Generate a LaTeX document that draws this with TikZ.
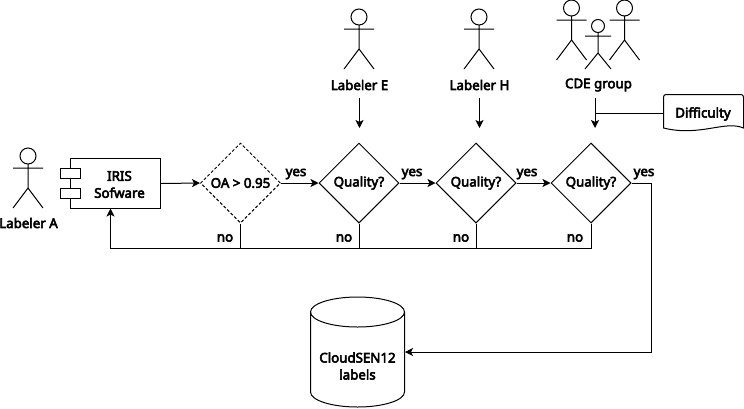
\documentclass[tikz,border=0pt]{standalone}
\usepackage{fontspec}
\setmainfont{Noto Sans}[BoldFont={Noto Sans},BoldFeatures={FakeBold=4}]
\usetikzlibrary{shapes.geometric,arrows.meta,calc}
\tikzset{
  every picture/.style={x=1pt,y=-1pt,line width=1pt},
  lbl/.style={font=\fontsize{13.3}{16}\selectfont\bfseries,inner sep=0pt,align=center,text=black},
  tag/.style={lbl,fill=black!2,inner xsep=1pt,inner ysep=1pt},
  dia/.style={draw,diamond,aspect=1,minimum width=80pt,minimum height=80pt,inner sep=0pt,lbl},
  conn/.style={draw,-{Stealth[length=8pt,width=8pt,inset=2pt]}},
  wire/.style={draw},
  pics/actor/.style={code={
    \draw (0,-12) circle[radius=8];
    \draw (-15,0) -- (15,0) (0,-4) -- (0,20) (-15,40) -- (0,20) -- (15,40);
  }},
  pics/smallactor/.style={code={
    \draw (0,-10) circle[radius=6.5];
    \draw (-13,0) -- (13,0) (0,-3.5) -- (0,17) (-13,33) -- (0,17) -- (13,33);
  }}
}
\begin{document}
\begin{tikzpicture}
\useasboundingbox (0,0) rectangle (744,408);
% actors
\pic at (28,168) {actor};
\pic at (359,29) {actor};
\pic at (479,29) {actor};
\pic at (571.5,20) {actor};
\pic at (624.5,20) {actor};
\pic at (598,36) {smallactor};
\node[lbl] (la) at (28.5,223) {Labeler A};
\node[lbl] (le) at (359.5,85) {Labeler E};
\node[lbl] (lh) at (479.5,85) {Labeler H};
\node[lbl] (lc) at (598.5,85) {CDE group};
% IRIS
\node[draw,fill=white,minimum width=90pt,minimum height=50pt,inner sep=0pt] (iris) at (115.5,183.5) {};
\node[draw,fill=white,minimum width=20pt,minimum height=10pt,inner sep=0pt] (p1) at (70.5,173.5) {};
\node[draw,fill=white,minimum width=20pt,minimum height=10pt,inner sep=0pt] (p2) at (70.5,193.5) {};
\node[lbl] (irist) at (119.5,184.5) {IRIS\\[1pt]Sofware};
% decisions
\node[dia,densely dashed] (oa) at (240.5,183) {OA > 0.95};
\node[dia] (q1) at (359,183) {Quality?};
\node[dia] (q2) at (476,183) {Quality?};
\node[dia] (q3) at (591,183) {Quality?};
% store
\coordinate (cl) at (310.5,312);
\coordinate (cr) at (404.5,312);
\coordinate (cbl) at (310.5,392);
\coordinate (cbr) at (404.5,392);
\draw (cl) -- (cbl) arc[start angle=180,end angle=0,x radius=47,y radius=15] -- (cr);
\draw (357.5,312) ellipse[x radius=47,y radius=15];
\node[lbl] (db) at (357.5,366) {CloudSEN12\\[1pt]labels};
\coordinate (dbin) at (405,352);
% difficulty
\draw (666,94.5) -- (741,94.5) to[out=0,in=90] (743.5,97) -- (743.5,128)
  .. controls (725,120) and (700,137) .. (663.5,128) -- (663.5,97) to[out=90,in=180] (666,94.5);
\node[lbl] (diff) at (703,114) {Di{f}{f}iculty};
\coordinate (diffl) at (663.5,113.5);
% arrows
\draw[conn] (iris.east) -- (oa.west);
\draw[conn] (oa.east) -- (q1.west);
\draw[conn] (q1.east) -- (q2.west);
\draw[conn] (q2.east) -- (q3.west);
\coordinate (e1) at (359.5,98);
\coordinate (e2) at (359.5,128);
\coordinate (h1) at (479.5,98);
\coordinate (h2) at (479.5,128);
\coordinate (c1) at (595,98);
\coordinate (c2) at (595,128);
\coordinate (cm) at (595,113.5);
\draw[conn] (e1) -- (e2);
\draw[conn] (h1) -- (h2);
\draw[conn] (c1) -- (c2);
\draw[wire] (diffl) -- (cm);
\coordinate (b0) at (110.5,248.5);
\coordinate (irisb) at (110.5,208.5);
\draw[conn] (q3.south) -- (591,248.5) -- (b0) -- (irisb);
\draw[wire] (oa.south) -- (240.5,248.5);
\draw[wire] (q1.south) -- (359,248.5);
\draw[wire] (q2.south) -- (476,248.5);
\draw[conn] (q3.east) -- (651,183) -- (651,352) -- (dbin);
% edge tags
\node[tag] (y1) at (296,174) {yes};
\node[tag] (y2) at (412,174) {yes};
\node[tag] (y3) at (527,174) {yes};
\node[tag] (y4) at (644,174) {yes};
\node[tag] (n1) at (225,238) {no};
\node[tag] (n2) at (344,238) {no};
\node[tag] (n3) at (461,238) {no};
\node[tag] (n4) at (575,238) {no};
\end{tikzpicture}
\end{document}
